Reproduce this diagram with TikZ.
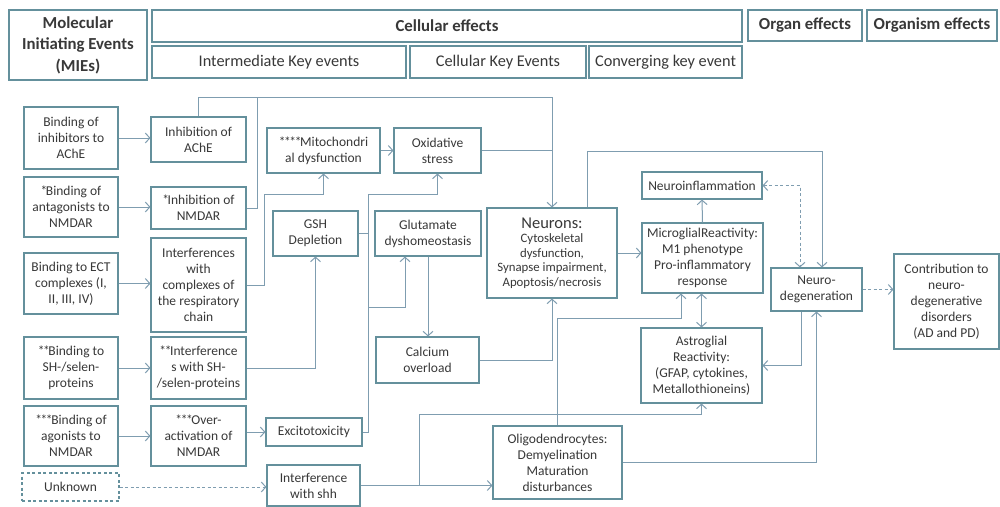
\documentclass[tikz,border=0pt]{standalone}
\usepackage{fontspec}
\setmainfont{Carlito}
\usetikzlibrary{arrows.meta}
\definecolor{boxline}{HTML}{64909C}
\definecolor{wirecol}{HTML}{7F9DB0}
\definecolor{ink}{HTML}{383838}
% tightly set asterisk used for footnote marks in the labels
\newcommand\tst{*\kern-1.4pt}

\begin{document}
\begin{tikzpicture}[x=1pt,y=-1pt,
  box/.style={draw=boxline, line width=1.1pt, align=center, inner sep=2pt,
    text=ink, font=\fontsize{13.5}{16}\selectfont},
  hdr/.style={box, font=\fontsize{16.3}{20}\selectfont},
  hdrb/.style={box, font=\bfseries\fontsize{16.8}{21.5}\selectfont},
  wire/.style={draw=wirecol, line width=1pt},
  tip/.tip={Straight Barb[length=4.5pt,width=10pt,line width=1pt]},
  arr/.style={wire, -tip},
  darr/.style={wire, tip-tip},
  dashline/.style={dash pattern=on 3pt off 2.5pt}
]
\useasboundingbox[fill=white] (0,0) rectangle (1000,506);

% ---- header row ----
\node[hdrb, minimum width=138pt, minimum height=70pt] (mie) at (78,45) {Molecular\\Initiating Events\\(MIEs)};
\node[hdrb, minimum width=590pt, minimum height=32pt] (cell) at (447,26) {Cellular effects};
\node[hdrb, minimum width=114pt, minimum height=31pt] (organ) at (805,25.5) {Organ effects};
\node[hdrb, minimum width=130pt, minimum height=31pt] (organism) at (932,25.5) {Organism effects};
\node[hdr, minimum width=254pt, minimum height=32pt] (ike) at (279,62) {Intermediate Key events};
\node[hdr, minimum width=176pt, minimum height=32pt] (cke) at (498,62) {Cellular Key Events};
\node[hdr, minimum width=153pt, minimum height=32pt] (cge) at (665.5,62) {Converging key event};

% ---- molecular initiating events ----
\node[box, minimum width=94pt, minimum height=62pt] (b1) at (71,138) {Binding of\\inhibitors to\\AChE};
\node[box, minimum width=94pt, minimum height=60pt] (b2) at (71,207) {\tst Binding of\\antagonists to\\NMDAR};
\node[box, minimum width=94pt, minimum height=61pt] (b3) at (71,283.5) {Binding to ECT\\complexes (I,\\II, III, IV)};
\node[box, minimum width=94pt, minimum height=62pt] (b4) at (71,368) {\tst\tst Binding to\\SH-/selen-\\proteins};
\node[box, minimum width=94pt, minimum height=60pt] (b5) at (71,436) {\tst\tst\tst Binding of\\agonists to\\NMDAR};
\node[box, dashline, minimum width=97pt, minimum height=28pt] (b6) at (70.5,487) {Unknown};

% ---- intermediate key events ----
\node[box, minimum width=95pt, minimum height=45pt] (c1) at (198.5,139.5) {Inhibition of\\AChE};
\node[box, minimum width=95pt, minimum height=42pt] (c2) at (198.5,208) {\tst Inhibition of\\NMDAR};
\node[box, minimum width=95pt, minimum height=94pt] (c3) at (198.5,285) {Interferences\\with\\complexes of\\the respiratory\\chain};
\node[box, minimum width=95pt, minimum height=62pt] (c4) at (198.5,368) {\tst\tst Interference\\s with SH-\\/selen-proteins};
\node[box, minimum width=95pt, minimum height=60pt] (c5) at (198.5,436) {\tst\tst\tst Over-\\activation of\\NMDAR};

\node[box, minimum width=113pt, minimum height=45pt] (mito) at (323.5,150.5) {\tst\tst\tst\tst Mitochondri\\al dysfunction};
\node[box, minimum width=87pt, minimum height=45pt] (oxi) at (437.5,150.5) {Oxidative\\stress};
\node[box, minimum width=85pt, minimum height=45pt] (gsh) at (315.5,233.5) {GSH\\Depletion};
\node[box, minimum width=106pt, minimum height=45pt] (glu) at (428,233.5) {Glutamate\\dyshomeostasis};
\node[box, minimum width=103pt, minimum height=46pt] (cal) at (427.5,360) {Calcium\\overload};
\node[box, minimum width=96pt, minimum height=28pt] (exc) at (314,432) {Excitotoxicity};
\node[box, minimum width=93pt, minimum height=41pt] (shh) at (313.5,485.5) {Interference\\with shh};

% ---- cellular key events ----
\node[box, minimum width=130pt, minimum height=90pt, font=\fontsize{12.8}{14.6}\selectfont] (neu) at (552,253)
  {{\fontsize{16.5}{19}\selectfont Neurons:}\\Cytoskeletal\\dysfunction,\\Synapse impairment,\\Apoptosis/necrosis};
\node[box, minimum width=129pt, minimum height=73pt] (oli) at (557.5,462.5) {Oligodendrocytes:\\Demyelination\\Maturation\\disturbances};

% ---- converging key events ----
\node[box, minimum width=120pt, minimum height=27pt] (ninf) at (702,185.5) {Neuroinflammation};
\node[box, minimum width=121pt, minimum height=70pt] (mic) at (702.5,258) {MicroglialReactivity:\\M1 phenotype\\Pro-inflammatory\\response};
\node[box, minimum width=121pt, minimum height=75pt] (ast) at (701.5,365.5) {Astroglial\\Reactivity:\\(GFAP, cytokines,\\Metallothioneins)};

% ---- organ / organism ----
\node[box, minimum width=91pt, minimum height=43pt] (ndeg) at (816.5,289.5) {Neuro-\\degeneration};
\node[box, minimum width=105pt, minimum height=95pt] (contr) at (946.5,301.5) {Contribution to\\neuro-\\degenerative\\disorders\\(AD and PD)};

% ---- routing points ----
\coordinate (toprail) at (552,97);
\coordinate (c2up) at (257,97);
\coordinate (resp) at (264,194);
\coordinate (spine) at (368,194);
\coordinate (gluin) at (405,307);
\coordinate (shhup) at (419,414);
\coordinate (olimic) at (681,318);
\coordinate (nrail) at (822,151);

% ---- MIE -> intermediate events ----
\draw[arr] (b1.east) -- (b1.east -| c1.west);
\draw[arr] (b2.east) -- (b2.east -| c2.west);
\draw[arr] (b3.east) -- (b3.east -| c3.west);
\draw[arr] (b4.east) -- (b4.east -| c4.west);
\draw[arr] (b5.east) -- (b5.east -| c5.west);
\draw[arr, dashline] (b6.east) -- (b6.east -| shh.west);

% ---- AChE / NMDAR rail to neurons ----
\draw[arr] (c1.north) |- (toprail) -- (neu.north);
\draw[wire] (c2.east) -| (c2up);
\draw[wire] (oxi.east) -- (oxi.east -| toprail);
\draw[arr] (mito.east) -- (oxi.west);

% ---- mitochondria and oxidative stress inputs ----
\draw[arr] (c3.east) -| (resp) -| (mito.south);
\draw[arr] (exc.east) -| (spine) -| (oxi.south);
\draw[wire] (gsh.east) -- (gsh.east -| spine);
\draw[arr] (gluin -| spine) -- (gluin) -- (gluin |- glu.south);
\draw[arr] (glu.south) -- (glu.south |- cal.north);
\draw[arr] (c4.east) -| (gsh.south);
\draw[arr] (c5.east |- exc.west) -- (exc.west);
\draw[arr] (cal.east) -| (neu.south);

% ---- shh pathway ----
\draw[arr] (shh.east) -- (shh.east -| oli.west);
\draw[arr] (shh.east -| shhup) -- (shhup) -| (ast.south);

% ---- glial interactions ----
\draw[arr] (oli.north) |- (olimic) -- (olimic |- mic.south);
\draw[darr] (mic.south -| ast.north) -- (ast.north);
\draw[arr] (mic.north) -- (ninf.south);
\draw[arr] (neu.east) -- (neu.east -| mic.west);

% ---- towards neurodegeneration ----
\draw[arr] ([xshift=35pt]neu.north) |- (nrail) -- (nrail |- ndeg.north);
\draw[darr, dashline] (ninf.east) -| ([xshift=-16.5pt]ndeg.north);
\draw[arr, dashline] (ndeg.east) -- (ndeg.east -| contr.west);
\draw[arr] ([xshift=-15.5pt]ndeg.south) |- (ast.east);
\draw[arr] (oli.east) -| (ndeg.south);
\end{tikzpicture}
\end{document}
